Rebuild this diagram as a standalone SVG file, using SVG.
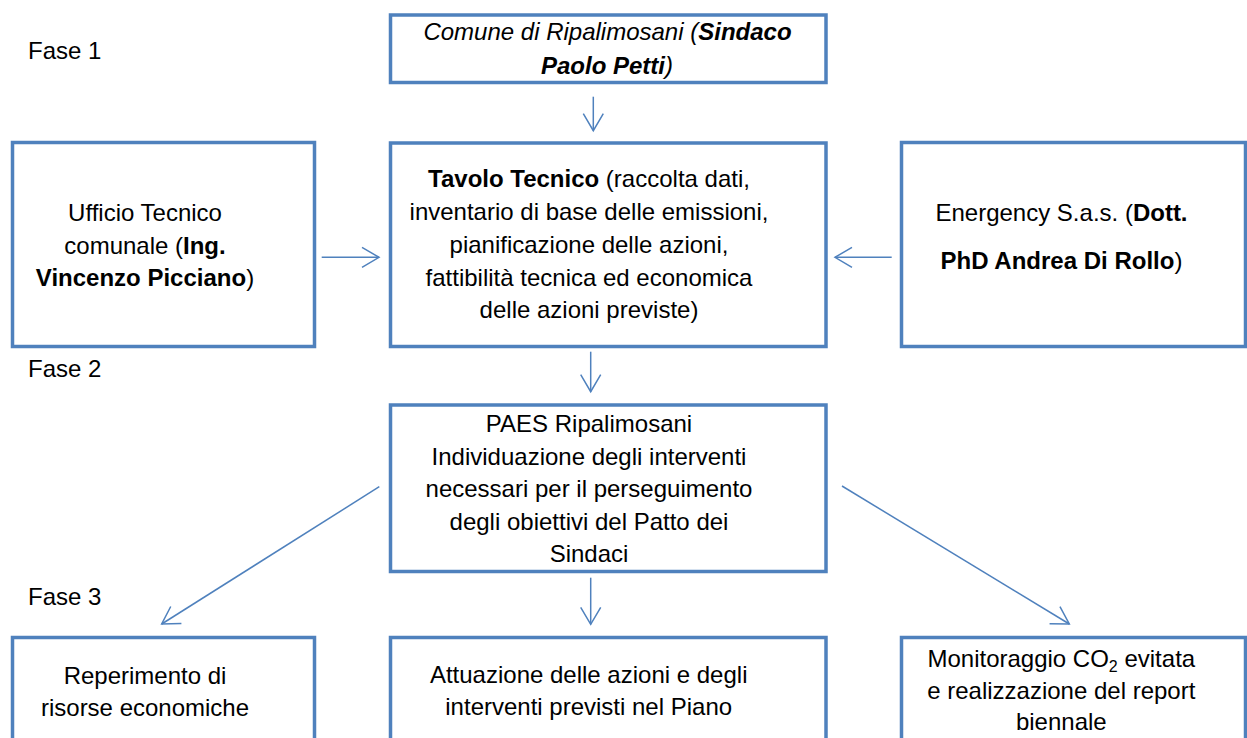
<svg xmlns="http://www.w3.org/2000/svg" width="1247" height="738" viewBox="0 0 1247 738">
<style>
.box{fill:#fff;stroke:#4F81BD;stroke-width:3.5}
.t{font-family:"Liberation Sans",Arial,sans-serif;font-size:24px;fill:#000;text-anchor:middle}
.lbl{font-family:"Liberation Sans",Arial,sans-serif;font-size:24px;fill:#000}
.b{font-weight:bold}
.i{font-style:italic}
.c{fill:none;stroke:#4F81BD;stroke-width:1.5}
</style>
<defs>
<marker id="arr" viewBox="0 0 20 22" refX="18" refY="11" markerWidth="20" markerHeight="22" markerUnits="userSpaceOnUse" orient="auto" overflow="visible">
<path d="M1,1 L18,11 L1,21" fill="none" stroke="#4F81BD" stroke-width="1.5"/>
</marker>
</defs>
<rect width="1247" height="738" fill="#fff"/>
<g id="phase-labels">
<text class="lbl" x="28" y="59">Fase 1</text>
<text class="lbl" x="28" y="377">Fase 2</text>
<text class="lbl" x="28" y="605">Fase 3</text>
</g>
<g id="comune">
<rect class="box" x="390.5" y="15" width="435.5" height="67.5"/>
<text class="t i" x="607.5" y="40">Comune di Ripalimosani (<tspan class="b">Sindaco</tspan></text>
<text class="t i" x="607" y="74"><tspan class="b">Paolo Petti</tspan>)</text>
</g>
<g id="ufficio">
<rect class="box" x="12.5" y="142.5" width="302" height="204"/>
<text class="t" x="145" y="221">Ufficio Tecnico</text>
<text class="t" x="145" y="253.5">comunale (<tspan class="b">Ing.</tspan></text>
<text class="t" x="145" y="286"><tspan class="b">Vincenzo Picciano</tspan>)</text>
</g>
<g id="tavolo">
<rect class="box" x="390.5" y="143" width="435.5" height="203.5"/>
<text class="t" x="589" y="186.5"><tspan class="b">Tavolo Tecnico</tspan> (raccolta dati,</text>
<text class="t" x="589" y="219.5">inventario di base delle emissioni,</text>
<text class="t" x="589" y="252.5">pianificazione delle azioni,</text>
<text class="t" x="589" y="285.5">fattibilità tecnica ed economica</text>
<text class="t" x="589" y="318">delle azioni previste)</text>
</g>
<g id="energency">
<rect class="box" x="901.5" y="142.5" width="344" height="204"/>
<text class="t" x="1061.5" y="221">Energency S.a.s. (<tspan class="b">Dott.</tspan></text>
<text class="t" x="1061.5" y="269"><tspan class="b">PhD Andrea Di Rollo</tspan>)</text>
</g>
<g id="paes">
<rect class="box" x="390.5" y="405" width="435.5" height="166.5"/>
<text class="t" x="589" y="432">PAES Ripalimosani</text>
<text class="t" x="589" y="464.5">Individuazione degli interventi</text>
<text class="t" x="589" y="497">necessari per il perseguimento</text>
<text class="t" x="589" y="529.5">degli obiettivi del Patto dei</text>
<text class="t" x="589" y="562">Sindaci</text>
</g>
<g id="reperimento">
<rect class="box" x="12.5" y="637.5" width="302" height="120"/>
<text class="t" x="145" y="683.5">Reperimento di</text>
<text class="t" x="145" y="716">risorse economiche</text>
</g>
<g id="attuazione">
<rect class="box" x="390.5" y="637.5" width="435.5" height="120"/>
<text class="t" x="588.7" y="683">Attuazione delle azioni e degli</text>
<text class="t" x="588.7" y="715">interventi previsti nel Piano</text>
</g>
<g id="monitoraggio">
<rect class="box" x="901.5" y="637.5" width="344" height="120"/>
<text class="t" x="1061.3" y="667">Monitoraggio CO<tspan font-size="16" dy="5">2</tspan><tspan dy="-5"> evitata</tspan></text>
<text class="t" x="1061.3" y="698.5">e realizzazione del report</text>
<text class="t" x="1061.3" y="730">biennale</text>
</g>
<g id="connectors">
<line class="c" x1="593.3" y1="96.7" x2="593.3" y2="130.7" marker-end="url(#arr)"/>
<line class="c" x1="321.7" y1="257.3" x2="379" y2="257.3" marker-end="url(#arr)"/>
<line class="c" x1="891.7" y1="257.3" x2="835" y2="257.3" marker-end="url(#arr)"/>
<line class="c" x1="590.7" y1="351.7" x2="590.7" y2="391.7" marker-end="url(#arr)"/>
<line class="c" x1="379.3" y1="486.7" x2="161.7" y2="624" marker-end="url(#arr)"/>
<line class="c" x1="590.7" y1="577.7" x2="590.7" y2="624.3" marker-end="url(#arr)"/>
<line class="c" x1="842" y1="486" x2="1069.3" y2="624" marker-end="url(#arr)"/>
</g>
</svg>
